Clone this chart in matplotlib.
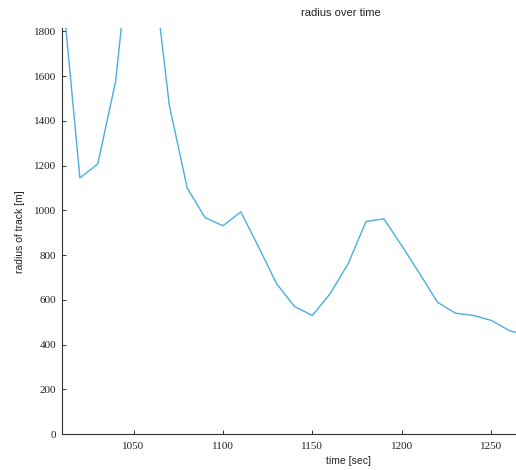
import matplotlib
matplotlib.use("Agg")
import matplotlib.pyplot as plt

# data (time in seconds, radius in metres)
time_s = [1010, 1020, 1030, 1040, 1050, 1060, 1070, 1080, 1090, 1100, 1110,
          1120, 1130, 1140, 1150, 1160, 1170, 1180, 1190, 1200, 1210, 1220,
          1230, 1240, 1250, 1260, 1270]
radius_m = [2000, 1145, 1207, 1577, 2340, 2150, 1470, 1100, 967, 931, 993,
            835, 672, 570, 530, 628, 761, 950, 962, 842, 717, 589,
            540, 530, 508, 463, 440]

xticks = [1050, 1100, 1150, 1200, 1250]
yticks = [0, 200, 400, 600, 800, 1000, 1200, 1400, 1600, 1800]

W, H = 516, 470
fig = plt.figure(figsize=(W / 100, H / 100), dpi=100)
left, right, top, bottom = 62, 518, 28, 434
ax = fig.add_axes([left / W, 1 - bottom / H, (right - left) / W, (bottom - top) / H])

ax.plot(time_s, radius_m, color="#4aaee0", lw=1.0)
ax.set_xlim(1010, 1265)
ax.set_ylim(0, 1815)
ax.set_xticks(xticks)
ax.set_yticks(yticks)

serif = ["Liberation Serif", "DejaVu Serif"]
ax.set_xticklabels([str(v) for v in xticks], family=serif, fontsize=8)
ax.set_yticklabels([str(v) for v in yticks], family=serif, fontsize=8)
ax.tick_params(direction="in", length=3, width=0.7, colors="#333333", labelcolor="#222222")
ax.tick_params(axis="x", pad=6)
ax.tick_params(axis="y", pad=4)
for s in ["top", "right"]:
    ax.spines[s].set_visible(False)
for s in ["left", "bottom"]:
    ax.spines[s].set_linewidth(0.8)
    ax.spines[s].set_color("#333333")

sans = ["Liberation Sans", "DejaVu Sans"]
fig.text(341 / W, 1 - 13 / H, "radius over time", ha="center", va="center",
         family=sans, fontsize=8, color="#222222")
fig.text(348 / W, 1 - 461 / H, "time [sec]", ha="center", va="center",
         family=sans, fontsize=7.5, color="#222222")
fig.text(20 / W, 1 - 232 / H, "radius of track [m]", ha="center", va="center",
         rotation=90, family=sans, fontsize=7.5, color="#222222")

fig.savefig("out.png", dpi=100)
